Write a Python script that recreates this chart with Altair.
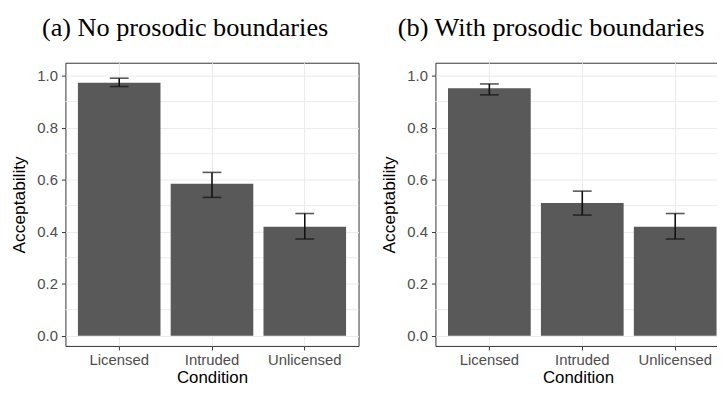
import altair as alt
import pandas as pd

conditions = ["Licensed", "Intruded", "Unlicensed"]

# Panel (a): No prosodic boundaries
a_mean = [0.973, 0.584, 0.419]
a_low = [0.958, 0.532, 0.372]
a_high = [0.990, 0.628, 0.470]

# Panel (b): With prosodic boundaries
b_mean = [0.951, 0.510, 0.419]
b_low = [0.926, 0.464, 0.372]
b_high = [0.968, 0.556, 0.470]

minor_breaks = [0.1, 0.3, 0.5, 0.7, 0.9]
major_breaks = [0.0, 0.2, 0.4, 0.6, 0.8, 1.0]

SANS = "Liberation Sans"
SERIF = "Liberation Serif"
GRID = "#EBEBEB"

# page geometry (svg is 716 x 378, placed at the 8px page margin)
SVG_W, SVG_H = 716, 378
PAD_L, PAD_T = 58, 52


def panel(title, mean, low, high, width, pad_outer, align):
    df = pd.DataFrame({"Condition": conditions, "mean": mean, "low": low, "high": high})
    minor_df = pd.DataFrame({"v": minor_breaks})

    yscale = alt.Scale(domain=[-0.039, 1.0495], nice=False, zero=False)
    xscale = alt.Scale(paddingInner=0.11, paddingOuter=pad_outer, align=align)

    xenc = alt.X(
        "Condition:N",
        sort=conditions,
        scale=xscale,
        axis=alt.Axis(
            title="Condition",
            labelAngle=0,
            grid=True,
            gridColor=GRID,
            gridWidth=1,
            bandPosition=0.5,
            domain=False,
            tickColor="#333333",
            tickSize=4,
            labelPadding=3,
            labelFont=SANS,
            labelFontSize=15,
            labelColor="#4D4D4D",
            titleFont=SANS,
            titleFontSize=17,
            titleFontWeight="normal",
            titleColor="#000000",
            titlePadding=2,
        ),
    )
    yaxis = alt.Axis(
        title="Acceptability",
        values=major_breaks,
        format=".1f",
        grid=True,
        gridColor=GRID,
        gridWidth=1,
        domain=False,
        tickColor="#333333",
        tickSize=4,
        labelPadding=4,
        labelFont=SANS,
        labelFontSize=15,
        labelColor="#4D4D4D",
        titleFont=SANS,
        titleFontSize=17.5,
        titleFontWeight="normal",
        titleColor="#000000",
        titlePadding=8,
    )

    minor = alt.Chart(minor_df).mark_rule(color=GRID, strokeWidth=1).encode(
        y=alt.Y("v:Q", scale=yscale, axis=yaxis)
    )
    bars = alt.Chart(df).mark_bar(color="#595959").encode(
        x=xenc,
        y=alt.Y("mean:Q", scale=yscale, axis=yaxis),
    )
    err = alt.Chart(df).mark_rule(color="#111111", strokeWidth=1.6).encode(
        x=alt.X("Condition:N", sort=conditions),
        y=alt.Y("low:Q"),
        y2="high:Q",
    )
    cap_lo = alt.Chart(df).mark_tick(color="#111111", size=19, thickness=1.6, orient="horizontal").encode(
        x=alt.X("Condition:N", sort=conditions),
        y=alt.Y("low:Q"),
    )
    cap_hi = alt.Chart(df).mark_tick(color="#111111", size=19, thickness=1.6, orient="horizontal").encode(
        x=alt.X("Condition:N", sort=conditions),
        y=alt.Y("high:Q"),
    )
    return alt.layer(minor, bars, err, cap_lo, cap_hi).properties(
        width=width,
        height=286,
        title=alt.TitleParams(
            text=title,
            font=SERIF,
            fontSize=26.5,
            fontWeight="normal",
            color="#000000",
            anchor="middle",
            frame="bounds",
            offset=22,
        ),
    )


left = panel("(a) No prosodic boundaries", a_mean, a_low, a_high, 296, 0.1345, 0.5)
right = panel("(b) With prosodic boundaries", b_mean, b_low, b_high, 288, 0.0895, 0.756)

chart = (
    alt.hconcat(left, right, spacing=20.65)
    .properties(
        autosize=alt.AutoSizeParams(type="none"),
        padding={"left": PAD_L, "top": PAD_T, "right": SVG_W - PAD_L, "bottom": SVG_H - PAD_T},
        background="white",
    )
    .configure_view(stroke="#333333", strokeWidth=1)
)

chart.save("out.html", embed_options={"renderer": "svg", "actions": False})
